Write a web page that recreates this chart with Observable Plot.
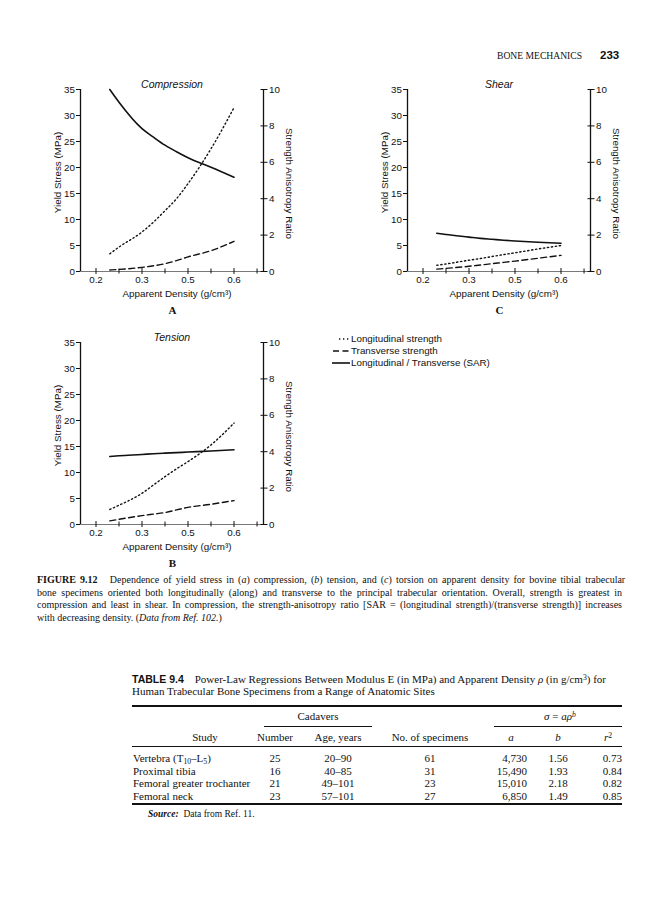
<!DOCTYPE html>
<html><head><meta charset="utf-8">
<script src="https://cdn.jsdelivr.net/npm/d3@7"></script>
<script src="https://cdn.jsdelivr.net/npm/@observablehq/plot@0.6"></script>
<style>
html,body{margin:0;padding:0;background:#fff;}
#page{position:relative;width:669px;height:900px;overflow:hidden;font-family:"Liberation Serif","Times New Roman",serif;color:#111;}
.abs{position:absolute;white-space:nowrap;line-height:11px;}
#page svg{background:transparent !important;overflow:visible;}
.rule{position:absolute;background:#111;}
sup{font-size:70%;line-height:0;vertical-align:0.45em;}
sub{font-size:70%;line-height:0;vertical-align:-0.2em;}
</style></head>
<body><div id="page"></div>
<script>
// ---------- data ----------
const density = [0.23, 0.25, 0.3, 0.35, 0.4, 0.45, 0.5, 0.55, 0.6];
const compressionLong  = [3.4, 4.7, 7.6, 9.5, 11.7, 14.0, 16.9, 23.6, 31.5];
const compressionTrans = [0.3, 0.4, 0.8, 1.1, 1.5, 2.1, 2.8, 4.0, 5.8];
const compressionSAR   = [10.0, 9.3, 7.85, 7.38, 6.94, 6.58, 6.25, 5.73, 5.18];
const tensionLong  = [2.9, 3.7, 6.0, 7.6, 9.2, 10.7, 12.1, 15.3, 19.5];
const tensionTrans = [0.7, 1.0, 1.7, 2.0, 2.3, 2.8, 3.3, 3.9, 4.6];
const tensionSAR   = [3.74, 3.78, 3.85, 3.89, 3.92, 3.95, 3.98, 4.04, 4.11];
const shearLong  = [1.2, 1.45, 2.17, 2.5, 2.88, 3.25, 3.6, 4.33, 5.0];
const shearTrans = [0.45, 0.6, 1.0, 1.25, 1.5, 1.75, 2.0, 2.55, 3.1];
const shearSAR   = [2.1, 2.03, 1.89, 1.82, 1.77, 1.72, 1.68, 1.61, 1.55];

const xTickValues = [0.2, 0.3, 0.5, 0.6];
const xMinorTicks = [0.25, 0.4, 0.55, 0.65];
const yTickValues = [0, 5, 10, 15, 20, 25, 30, 35];
const sarTickValues = [0, 2, 4, 6, 8, 10];

const legendLabels = ["Longitudinal strength", "Transverse strength", "Longitudinal / Transverse (SAR)"];

const tableStudies = ["Vertebra (T<sub>10</sub>–L<sub>5</sub>)", "Proximal tibia", "Femoral greater trochanter", "Femoral neck"];
const tableNumber = ["25", "16", "21", "23"];
const tableAge = ["20–90", "40–85", "49–101", "57–101"];
const tableSpecimens = ["61", "31", "23", "27"];
const tableA = ["4,730", "15,490", "15,010", "6,850"];
const tableB = ["1.56", "1.93", "2.18", "1.49"];
const tableR2 = ["0.73", "0.84", "0.82", "0.85"];

// ---------- scales config ----------
const xDomain = [0.1663, 0.2, 0.3, 0.5, 0.6, 0.664];
const xRange  = [80, 95.5, 141.5, 187.5, 233.5, 263];
const yDomain = [0, 35];
const sarMax = 10;

const sans = "'Liberation Sans', Arial, Helvetica, sans-serif";
const serif = "'Liberation Serif', 'Times New Roman', serif";
const page = document.getElementById("page");

function makeChart(cfg) {
  const k = yDomain[1] / sarMax;
  const rows = density.map((d, i) => ({d, long: cfg.long[i], trans: cfg.trans[i], sar: cfg.sar[i]}));
  return Plot.plot({
    width: 330, height: 250,
    marginLeft: 80, marginRight: 67, marginTop: 19, marginBottom: 49,
    style: {fontFamily: sans, fontSize: "9.8px", color: "#111", background: "transparent", overflow: "visible"},
    x: {type: "linear", domain: xDomain, range: xRange},
    y: {type: "linear", domain: yDomain},
    marks: [
      Plot.ruleY([0], {stroke: "#555", strokeWidth: 0.8}),
      Plot.ruleX([xDomain[0]], {stroke: "#111", strokeWidth: 1.3}),
      Plot.ruleX([xDomain[xDomain.length - 1]], {stroke: "#111", strokeWidth: 1.3}),
      Plot.axisY({anchor: "left", ticks: yTickValues, tickFormat: d => String(d), tickSize: 4, tickPadding: 1.5, label: null}),
      Plot.axisY({anchor: "right", ticks: sarTickValues.map(v => v * k), tickFormat: v => String(Math.round(v / k)), tickSize: 3.5, tickPadding: 2, label: null}),
      Plot.axisY({anchor: "right", ticks: sarTickValues.map(v => v * k), tickFormat: () => "", tickSize: 3.5, dx: -3.5, label: null}),
      Plot.axisX({ticks: xTickValues, tickFormat: d3.format(".1f"), tickSize: 3, tickPadding: 1.5, label: null}),
      Plot.axisX({ticks: xTickValues, tickFormat: () => "", tickSize: 3, dy: -3, label: null}),
      Plot.axisX({ticks: xMinorTicks, tickFormat: () => "", tickSize: 5, dy: -2.5, label: null}),
      Plot.line(rows, {x: "d", y: "long", curve: "monotone-x", stroke: "#111", strokeWidth: 1.4, strokeDasharray: "1.3,2.7"}),
      Plot.line(rows, {x: "d", y: "trans", curve: "monotone-x", stroke: "#111", strokeWidth: 1.4, strokeDasharray: "6,3.5"}),
      Plot.line(rows, {x: "d", y: d => d.sar * k, curve: "monotone-x", stroke: "#111", strokeWidth: 1.6}),
      Plot.text([cfg.title], {text: d => d, frameAnchor: "top", dy: -4.5, lineAnchor: "middle", fontStyle: "italic", fontSize: 10.5}),
      Plot.text(["Yield Stress (MPa)"], {text: d => d, frameAnchor: "left", rotate: -90, dx: -23, dy: -8, textAnchor: "middle", lineAnchor: "middle", fontSize: 9.8}),
      Plot.text(["Strength Anisotropy Ratio"], {text: d => d, frameAnchor: "right", rotate: 90, dx: 26, dy: 3, textAnchor: "middle", lineAnchor: "middle", fontSize: 9.8}),
      Plot.text(["Apparent Density (g/cm³)"], {text: d => d, frameAnchor: "bottom", dx: 5, dy: 22, lineAnchor: "middle", fontSize: 9.8}),
      Plot.text([cfg.letter], {text: d => d, frameAnchor: "bottom", dx: 0.5, dy: 38.5, lineAnchor: "middle", fontFamily: serif, fontWeight: "bold", fontSize: 11})
    ]
  });
}

function place(el, left, top) {
  el.style.position = "absolute";
  el.style.left = left + "px";
  el.style.top = top + "px";
  page.appendChild(el);
  return el;
}

place(makeChart({title: "Compression", letter: "A", long: compressionLong, trans: compressionTrans, sar: compressionSAR}), 0, 70);
place(makeChart({title: "Shear", letter: "C", long: shearLong, trans: shearTrans, sar: shearSAR}), 326.5, 70);
place(makeChart({title: "Tension", letter: "B", long: tensionLong, trans: tensionTrans, sar: tensionSAR}), 0, 322.7);

// ---------- text helpers ----------
function txt(html, x, cy, css = "", align = "left") {
  const d = document.createElement("div");
  d.className = "abs";
  d.innerHTML = html;
  d.style.cssText += `left:${x}px;top:${cy - 5.5}px;` + css;
  if (align === "center") d.style.transform = "translateX(-50%)";
  if (align === "right") d.style.transform = "translateX(-100%)";
  page.appendChild(d);
  return d;
}
function rule(x1, x2, y, h) {
  const r = document.createElement("div");
  r.className = "rule";
  r.style.cssText = `left:${x1}px;top:${y - h / 2}px;width:${x2 - x1}px;height:${h}px;`;
  page.appendChild(r);
}
function justified(html, x, cy, width, css) {
  const d = txt(html, x, cy, css);
  const natural = d.getBoundingClientRect().width;
  const spaces = (d.textContent.match(/ /g) || []).length;
  if (spaces) d.style.wordSpacing = ((width - natural) / spaces) + "px";
  return d;
}

// header
txt("BONE MECHANICS", 497, 55, `font-family:${serif};font-size:9.6px;`);
txt("233", 600, 55, `font-family:${sans};font-size:11.5px;font-weight:bold;`);

// legend
const legendDash = ["1.3,2.7", "6,3.5", null];
const legendStart = [8, 2, 1];
legendLabels.forEach((lab, i) => {
  const cy = 338.5 + i * 12.2;
  const svgNS = "http://www.w3.org/2000/svg";
  const s = document.createElementNS(svgNS, "svg");
  s.setAttribute("width", 20); s.setAttribute("height", 8);
  const l = document.createElementNS(svgNS, "line");
  l.setAttribute("x1", legendStart[i]); l.setAttribute("x2", 19);
  l.setAttribute("y1", 4); l.setAttribute("y2", 4);
  l.setAttribute("stroke", "#111"); l.setAttribute("stroke-width", i === 2 ? 1.6 : 1.4);
  if (legendDash[i]) l.setAttribute("stroke-dasharray", legendDash[i]);
  s.appendChild(l);
  place(s, 331, cy - 4);
  txt(lab, 351, cy, `font-family:${sans};font-size:9.8px;`);
});

// caption
const capCss = `font-family:${serif};font-size:10px;`;
const capLines = [
  "<b>FIGURE 9.12</b>&nbsp;&nbsp; Dependence of yield stress in (<i>a</i>) compression, (<i>b</i>) tension, and (<i>c</i>) torsion on apparent density for bovine tibial trabecular",
  "bone specimens oriented both longitudinally (along) and transverse to the principal trabecular orientation. Overall, strength is greatest in",
  "compression and least in shear. In compression, the strength-anisotropy ratio [SAR = (longitudinal strength)/(transverse strength)] increases",
  "with decreasing density. (<i>Data from Ref. 102.</i>)"
];
const capY = [579, 592, 604.5, 617];
capLines.forEach((h, i) => {
  if (i < capLines.length - 1) justified(h, 37, capY[i], 585, capCss);
  else txt(h, 37, capY[i], capCss);
});

// table
const tCss = `font-family:${serif};font-size:11px;`;
txt(`<span style="font-family:${sans};font-weight:bold;font-size:10.5px;">TABLE 9.4</span>&nbsp;&nbsp;&nbsp; Power-Law Regressions Between Modulus E (in MPa) and Apparent Density <i>ρ</i> (in g/cm<sup>3</sup>) for`, 132, 679, tCss);
txt("Human Trabecular Bone Specimens from a Range of Anatomic Sites", 132, 691.5, tCss);
rule(132, 622, 706, 1.6);
txt("Cadavers", 318, 716.5, tCss, "center");
txt("<i>σ</i> = <i>aρ</i><sup><i>b</i></sup>", 560, 716.5, tCss, "center");
rule(264, 372, 726, 0.7);
rule(494, 622, 726, 0.7);
const colCenters = {study: 205, number: 275, age: 338, spec: 430, a: 511, b: 558, r2: 608};
txt("Study", colCenters.study, 737.5, tCss, "center");
txt("Number", colCenters.number, 737.5, tCss, "center");
txt("Age, years", colCenters.age, 737.5, tCss, "center");
txt("No. of specimens", colCenters.spec, 737.5, tCss, "center");
txt("<i>a</i>", colCenters.a, 737.5, tCss, "center");
txt("<i>b</i>", colCenters.b, 737.5, tCss, "center");
txt("<i>r</i><sup>2</sup>", colCenters.r2, 737.5, tCss, "center");
rule(132, 622, 746.5, 0.8);
const rowY = [758.5, 771, 783.5, 796];
tableStudies.forEach((s, i) => {
  const y = rowY[i];
  txt(s, 133, y, tCss);
  txt(tableNumber[i], colCenters.number, y, tCss, "center");
  txt(tableAge[i], colCenters.age, y, tCss, "center");
  txt(tableSpecimens[i], colCenters.spec, y, tCss, "center");
  txt(tableA[i], 527, y, tCss, "right");
  txt(tableB[i], colCenters.b, y, tCss, "center");
  txt(tableR2[i], 622, y, tCss, "right");
});
rule(132, 622, 804, 1.6);
txt("<b><i>Source:</i></b>&nbsp; Data from Ref. 11.", 148, 814, `font-family:${serif};font-size:9.5px;`);
</script></body></html>
